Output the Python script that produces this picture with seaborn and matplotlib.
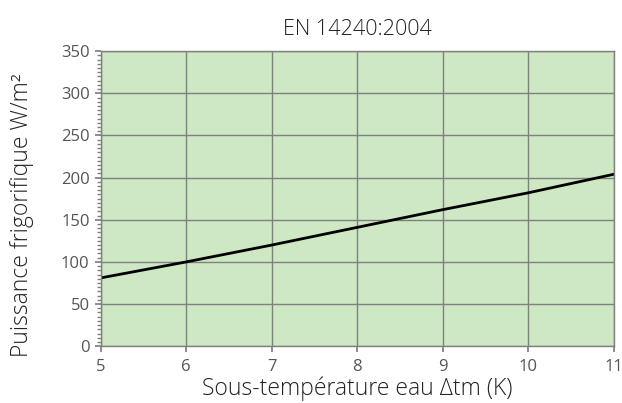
import matplotlib
matplotlib.use("Agg")
import matplotlib.pyplot as plt
import seaborn as sns
import pandas as pd
from matplotlib.ticker import MultipleLocator

# data
delta_tm = [5, 6, 7, 8, 9, 10, 11]
puissance = [81, 100, 120, 141, 162, 182, 204]

x_ticks = [5, 6, 7, 8, 9, 10, 11]
y_ticks = [0, 50, 100, 150, 200, 250, 300, 350]


def make_chart():
    df = pd.DataFrame({"dtm": delta_tm, "p": puissance})

    sns.set_theme(style="white")
    plt.rcParams["font.family"] = ["Open Sans", "DejaVu Sans"]

    fig = plt.figure(figsize=(6.22, 4.03), dpi=100)
    ax = fig.add_axes([0.162, 0.141, 0.825, 0.732])
    ax.set_facecolor("#cde8c3")

    sns.lineplot(data=df, x="dtm", y="p", color="black", linewidth=2, ax=ax)

    ax.set_xlim(5, 11)
    ax.set_ylim(0, 350)
    ax.set_xticks(x_ticks)
    ax.set_yticks(y_ticks)
    ax.yaxis.set_minor_locator(MultipleLocator(5))
    ax.grid(True, which="major", color="#808080", linewidth=1)
    ax.set_axisbelow(True)

    ax.tick_params(axis="both", which="major", direction="out", length=4,
                   color="#808080", labelsize=12, labelcolor="#555555",
                   left=True, bottom=True)
    ax.tick_params(axis="x", which="major", pad=5)
    ax.tick_params(axis="y", which="major", pad=4)
    ax.tick_params(axis="y", which="minor", direction="out", length=3,
                   color="#808080", left=True)

    for side in ["top", "right", "left", "bottom"]:
        ax.spines[side].set_color("#808080")
        ax.spines[side].set_linewidth(1)

    ax.set_title("EN 14240:2004", fontsize=15.5, color="#222222", pad=12,
                 fontweight="light")
    ax.set_xlabel("Sous-température eau Δtm (K)", fontsize=16.5,
                  color="#222222", labelpad=1, fontweight="light")
    ax.set_ylabel("Puissance frigorifique W/m²", fontsize=16.5,
                  color="#222222", fontweight="light")
    ax.yaxis.set_label_coords(-0.13, 0.444)

    fig.savefig("out.png", dpi=100)
    plt.close(fig)


if __name__ == "__main__":
    make_chart()
